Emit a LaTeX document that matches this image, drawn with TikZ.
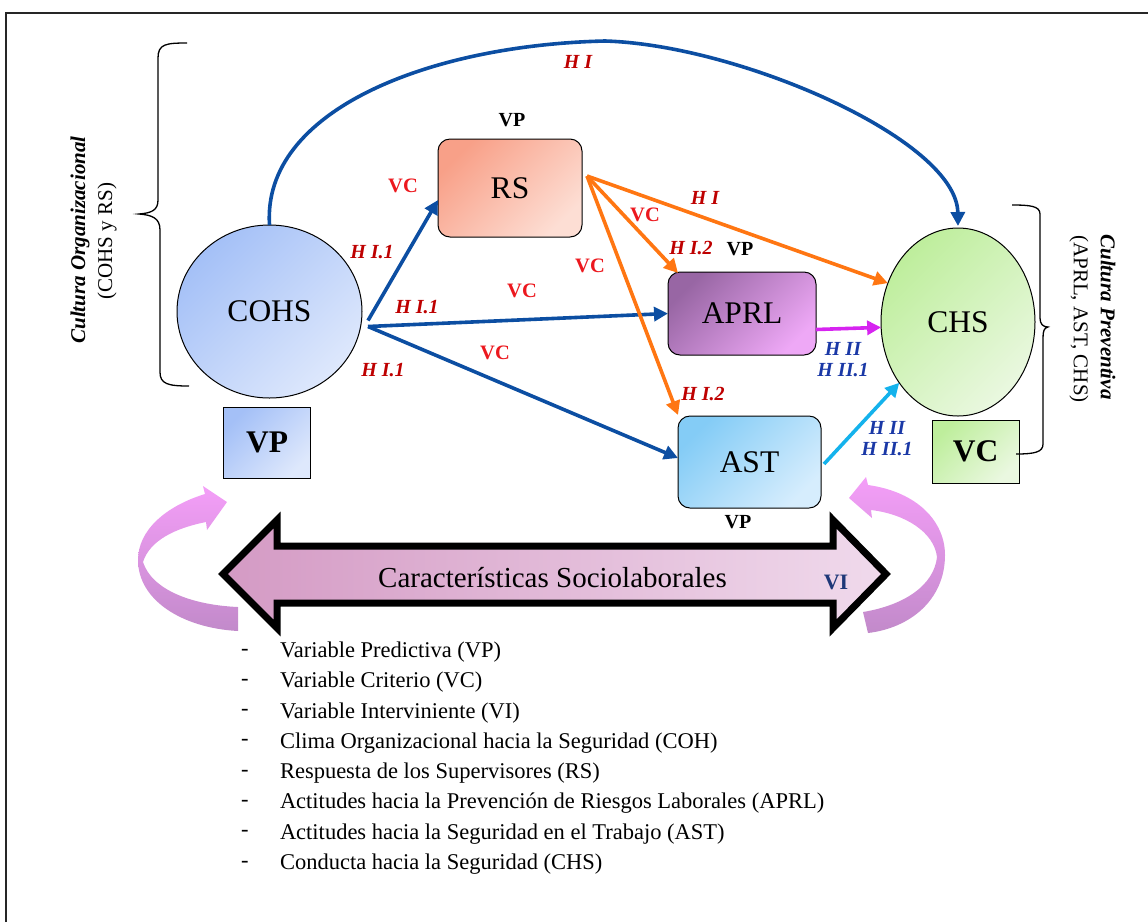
\documentclass[tikz,border=0pt]{standalone}
\usepackage{fontspec}
\setmainfont{Liberation Serif}
\usetikzlibrary{shapes.geometric,arrows.meta,calc}

\definecolor{linkblue}{RGB}{12,78,162}
\definecolor{linkorange}{RGB}{255,118,18}
\definecolor{linkmagenta}{RGB}{214,36,240}
\definecolor{linkcyan}{RGB}{20,178,236}
\definecolor{vcred}{RGB}{236,24,30}
\definecolor{hred}{RGB}{190,0,0}
\definecolor{hblue}{RGB}{26,56,166}
\definecolor{viblue}{RGB}{30,56,120}
\definecolor{blueA}{RGB}{164,192,247}
\definecolor{blueB}{RGB}{222,232,252}
\definecolor{salmonA}{RGB}{248,160,136}
\definecolor{salmonB}{RGB}{253,222,212}
\definecolor{purpleA}{RGB}{152,102,164}
\definecolor{purpleB}{RGB}{238,168,246}
\definecolor{skyA}{RGB}{132,204,246}
\definecolor{skyB}{RGB}{214,237,253}
\definecolor{greenA}{RGB}{190,238,156}
\definecolor{greenB}{RGB}{234,248,224}
\definecolor{bandA}{RGB}{212,154,196}
\definecolor{bandB}{RGB}{240,218,236}
\definecolor{swirlA}{RGB}{244,158,248}
\definecolor{swirlB}{RGB}{194,138,202}

\begin{document}
\begin{tikzpicture}[x=1pt,y=-1pt,
  every node/.style={inner sep=0pt,outer sep=0pt},
  vclabel/.style={font=\fontsize{20.5}{24}\selectfont\bfseries, text=vcred},
  hyp/.style={font=\fontsize{20}{24}\selectfont\bfseries\itshape, text=hred},
  hyptwo/.style={font=\fontsize{20}{24}\selectfont\bfseries\itshape, text=hblue, align=center},
  tag/.style={font=\fontsize{20}{24}\selectfont\bfseries},
  bigtext/.style={font=\fontsize{31.5}{36}\selectfont},
  boldbig/.style={font=\fontsize{31.5}{36}\selectfont\bfseries},
  rbox/.style={draw=black, line width=1pt, rounded corners=12pt},
  sbox/.style={draw=black, line width=1pt},
  oval/.style={ellipse, draw=black, line width=1pt},
  diag/.style 2 args={top color=#1, bottom color=#2, shading angle=45},
  link/.style={line width=3.6pt, -{Triangle[length=14pt,width=14pt]}},
  legend/.style={font=\fontsize{22.5}{26}\selectfont, anchor=west},
  bracetext/.style={font=\fontsize{21}{25}\selectfont},
]
\useasboundingbox (0,0) rectangle (1148,922);

% outer frame
\draw[line width=1.6pt, black!85] (6,922) -- (6,13) -- (1148,13);

% ---------- main variables ----------
\node[oval, diag={blueA}{blueB}, minimum width=185pt, minimum height=173pt, bigtext] (COHS) at (269.5,311.5) {COHS};
\node[sbox, diag={blueA}{blueB}, minimum width=87pt, minimum height=71pt, boldbig] (VPbox) at (267,442.5) {VP};

\node[rbox, diag={salmonA}{salmonB}, minimum width=144pt, minimum height=98pt, bigtext] (RS) at (510,188) {RS};
\node[rbox, diag={purpleA}{purpleB}, minimum width=148pt, minimum height=83pt, bigtext] (APRL) at (742,313.5) {APRL};
\node[rbox, diag={skyA}{skyB}, minimum width=143pt, minimum height=92pt, bigtext] (AST) at (749.5,462) {AST};

\node[oval, diag={greenA}{greenB}, minimum width=154pt, minimum height=188pt, bigtext] (CHS) at (958,322) {CHS};
\node[sbox, diag={greenA}{greenB}, minimum width=87pt, minimum height=63pt, boldbig] (VCbox) at (975.5,451.5) {VC};

% role tags next to the boxes
\node[tag] (tagRS) at (512,120) {VP};
\node[tag] (tagAPRL) at (740,249) {VP};
\node[tag] (tagAST) at (738,522) {VP};

% ---------- braces and group titles ----------
\draw[line width=1.3pt] (187,43) .. controls (166,43) and (158,44) .. (158,58)
  -- (158,200) .. controls (158,210) and (152,213) .. (139,214)
  .. controls (152,215) and (160,218) .. (160,230)
  -- (160,372) .. controls (160,384) and (168,386) .. (189,386);
\node[bracetext, rotate=90, font=\fontsize{21}{25}\selectfont\bfseries\itshape] (orgTitle) at (80,240) {Cultura Organizacional};
\node[bracetext, rotate=90] (orgSub) at (107,241) {(COHS y RS)};

\draw[line width=1.3pt] (1012,205) .. controls (1030,205) and (1040,206) .. (1040,214)
  -- (1040,318) .. controls (1040,324) and (1043,327) .. (1048,327)
  .. controls (1044,328) and (1043,331) .. (1043,338)
  -- (1043,444) .. controls (1043,452) and (1035,454) .. (1016,454);
\node[bracetext, rotate=-90, font=\fontsize{21}{25}\selectfont\bfseries\itshape] (prevTitle) at (1108,317) {Cultura Preventiva};
\node[bracetext, rotate=-90] (prevSub) at (1079,319) {(APRL, AST, CHS)};

% ---------- connectors ----------
\coordinate (cohsA) at ($(COHS.east)+(6,9)$);
\coordinate (cohsB) at ($(COHS.east)+(6,15)$);
\coordinate (rsout) at ($(RS.east)+(5,-12)$);

\draw[link, linkblue, shorten >=2pt] (COHS.north) .. controls (262,110) and (430,45) .. (605,41)
  .. controls (740,45) and (957,140) .. (CHS.north);

\draw[link, linkblue] (cohsA) -- ($(RS.west)+(0,12)$);
\draw[link, linkblue] (cohsB) -- (APRL.west);
\draw[link, linkblue] (cohsB) -- ($(AST.west)+(0,-4)$);

\draw[link, linkorange] (rsout) -- (CHS.151);
\draw[link, linkorange] (rsout) -- ($(APRL.north west)+(10,1)$);
\draw[link, linkorange] (rsout) -- ($(AST.north west)+(0,-1)$);

\draw[link, linkmagenta] ($(APRL.east)+(0,16)$) -- (CHS.184);
\draw[link, linkcyan] ($(AST.east)+(3,2)$) -- (CHS.226);

% ---------- hypothesis and variable labels ----------
\node[hyp] (hTop) at (578,62) {H I};
\node[vclabel] (vc1) at (403,186) {VC};
\node[hyp] (h11a) at (372,252) {H I.1};
\node[hyp] (h11b) at (417,307) {H I.1};
\node[vclabel] (vc2) at (522,291) {VC};
\node[vclabel] (vc3) at (495,353) {VC};
\node[hyp] (h11c) at (383,370) {H I.1};
\node[vclabel] (vc4) at (590,266) {VC};
\node[vclabel] (vc5) at (645,215) {VC};
\node[hyp] (hOr) at (705,198) {H I};
\node[hyp] (h12a) at (691,248) {H I.2};
\node[hyp] (h12b) at (703,394) {H I.2};
\node[hyptwo] (h2a) at (843,360) {H II\\[-3pt]H II.1};
\node[hyptwo] (h2b) at (887,439) {H II\\[-3pt]H II.1};

% ---------- intervening variable band ----------
\path[draw=black, line width=7pt, line join=miter, left color=bandA, right color=bandB]
  (223,574) -- (277,520) -- (277,546) -- (833,546) -- (833,520) -- (886,574)
  -- (833,628) -- (833,603) -- (277,603) -- (277,628) -- cycle;
\node[font=\fontsize{29}{33}\selectfont] (band) at (552.5,578) {Características Sociolaborales};
\node[font=\fontsize{22}{26}\selectfont\bfseries, text=viblue] (vi) at (836,582) {VI};

% curved feedback arrows
\path[top color=swirlA, bottom color=swirlB]
  (227,502) -- (203,486) -- (205,494)
  .. controls (166,506) and (138,530) .. (138,560)
  .. controls (138,600) and (182,628) .. (238,631)
  -- (238,607)
  .. controls (192,605) and (152,590) .. (143,562)
  .. controls (150,540) and (176,528) .. (206,522)
  -- (207,530) -- cycle;
\path[top color=swirlA, bottom color=swirlB]
  (849,498) -- (866,477) -- (868,485)
  .. controls (918,492) and (945,522) .. (945,555)
  .. controls (945,600) and (910,628) .. (868,633)
  -- (863,612)
  .. controls (905,605) and (934,585) .. (937,557)
  .. controls (934,532) and (905,514) .. (871,510)
  -- (872,518) -- cycle;

% ---------- legend ----------
\foreach \i/\txt in {0/Variable Predictiva (VP),
                    1/Variable Criterio (VC),
                    2/Variable Interviniente (VI),
                    3/Clima Organizacional hacia la Seguridad (COH),
                    4/Respuesta de los Supervisores (RS),
                    5/Actitudes hacia la Prevención de Riesgos Laborales (APRL),
                    6/Actitudes hacia la Seguridad en el Trabajo (AST),
                    7/Conducta hacia la Seguridad (CHS)}{
  \node[legend] (dash\i) at (241,652+30.3*\i) {-};
  \node[legend] (item\i) at (280,652+30.3*\i) {\txt};
}
\end{tikzpicture}
\end{document}
